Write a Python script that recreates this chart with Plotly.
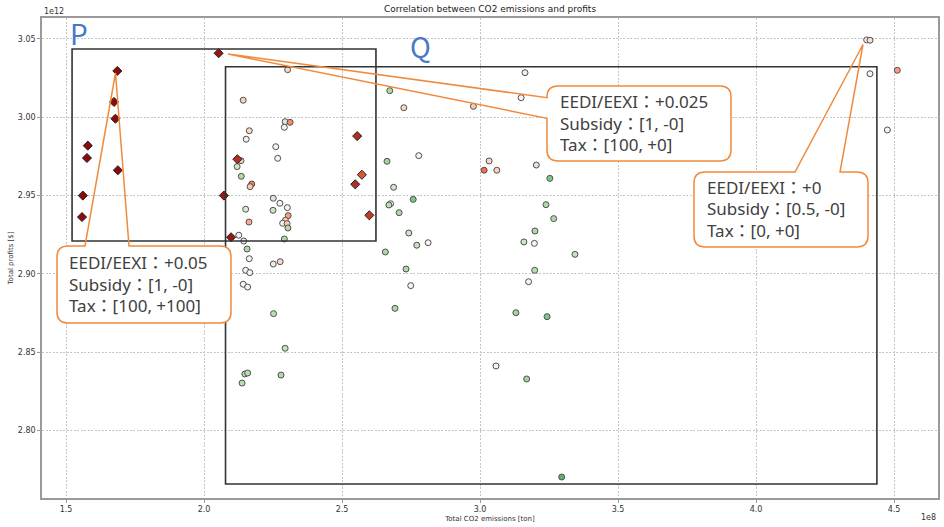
import plotly.graph_objects as go

# ---------------- data (x in 1e8 ton, y in 1e12 $) ----------------
circle_x = [2.303, 2.142, 2.294, 2.312, 2.291, 2.164, 2.153, 2.260, 2.267, 2.134,
            2.120, 2.135, 2.173, 2.167, 2.251, 2.275, 2.302, 2.151, 2.250, 2.305,
            2.163, 2.295, 2.285, 2.301, 2.304, 2.126, 2.144, 2.291, 2.673, 2.663,
            2.687, 2.676, 2.670, 2.707, 2.156, 2.164, 2.251, 2.276, 2.151, 2.166,
            2.142, 2.158, 2.252, 2.294, 2.148, 2.158, 2.279, 2.138, 2.657, 2.692,
            3.163, 2.724, 3.149, 2.976, 2.778, 3.033, 3.015, 3.061, 3.204, 3.253,
            2.758, 3.239, 3.267, 2.742, 3.199, 2.812, 2.771, 3.159, 3.197, 3.344,
            2.732, 3.198, 2.749, 3.176, 3.130, 3.243, 3.058, 3.169, 3.296, 4.401,
            4.413, 4.413, 4.512, 4.476]
circle_y = [3.0304, 3.0109, 2.9972, 2.9968, 2.9936, 2.9914, 2.9860, 2.9812, 2.9738, 2.9723,
            2.9685, 2.9623, 2.9574, 2.9557, 2.9483, 2.9451, 2.9423, 2.9413, 2.9406, 2.9372,
            2.9331, 2.9342, 2.9323, 2.9321, 2.9293, 2.9247, 2.9210, 2.9223, 3.0170, 2.9719,
            2.9553, 2.9448, 2.9440, 2.9391, 2.9159, 2.9097, 2.9063, 2.9078, 2.9023, 2.9008,
            2.8934, 2.8916, 2.8746, 2.8525, 2.8361, 2.8367, 2.8354, 2.8303, 2.9140, 2.8780,
            3.0285, 3.0061, 3.0125, 3.0070, 2.9755, 2.9721, 2.9662, 2.9662, 2.9695, 2.9610,
            2.9476, 2.9442, 2.9353, 2.9261, 2.9274, 2.9199, 2.9183, 2.9204, 2.9195, 2.9125,
            2.9031, 2.9023, 2.8925, 2.8950, 2.8752, 2.8727, 2.8412, 2.8329, 2.7703, 3.0494,
            3.0492, 3.0278, 3.0300, 2.9919]
circle_c = [0.2, 0.25, -0.15, 0.5, 0.0, 0.2, 0.05, 0.0, 0.0, 0.25,
            -0.2, -0.35, 0.55, 0.3, -0.15, 0.0, 0.0, -0.15, -0.2, 0.45,
            0.4, 0.25, 0.0, 0.3, -0.35, 0.0, 0.1, -0.35, -0.35, -0.4,
            -0.2, 0.0, -0.3, -0.35, -0.35, 0.0, 0.1, 0.2, 0.0, 0.0,
            0.0, 0.0, -0.3, -0.25, -0.3, -0.3, -0.35, -0.3, -0.35, -0.35,
            0.05, 0.2, 0.0, 0.3, 0.0, 0.2, 0.6, 0.25, -0.15, -0.55,
            -0.55, -0.35, -0.35, -0.2, -0.35, 0.0, -0.25, -0.2, 0.0, -0.25,
            -0.35, -0.3, 0.0, 0.0, -0.4, -0.55, 0.0, -0.4, -0.7, 0.05,
            0.15, 0.0, 0.45, 0.0]

diamond_x = [1.686, 1.674, 1.679, 1.579, 1.576, 1.688, 1.561, 1.558,
             2.053, 2.072, 2.121, 2.555, 2.572, 2.548, 2.599, 2.098]
diamond_y = [3.0296, 3.0098, 2.9991, 2.9819, 2.9740, 2.9662, 2.9500, 2.9363,
             3.0409, 2.9500, 2.9732, 2.9880, 2.9633, 2.9572, 2.9374, 2.9234]
diamond_c = [1.0, 1.0, 1.0, 1.0, 1.0, 1.0, 1.0, 1.0,
             0.95, 0.95, 0.85, 0.85, 0.7, 0.85, 0.8, 0.95]

x_ticks = [1.5, 2.0, 2.5, 3.0, 3.5, 4.0, 4.5]
y_ticks = [2.80, 2.85, 2.90, 2.95, 3.00, 3.05]

# regions P and Q (data units)
region_names = ["P", "Q"]
region_x = [(1.522, 2.623), (2.078, 4.438)]
region_y = [(2.921, 3.0436), (2.7658, 3.0323)]

callout_texts = [
    ["EEDI/EEXI：+0.05", "Subsidy：[1, -0]", "Tax：[100, +100]"],
    ["EEDI/EEXI：+0.025", "Subsidy：[1, -0]", "Tax：[100, +0]"],
    ["EEDI/EEXI：+0", "Subsidy：[0.5, -0]", "Tax：[0, +0]"],
]

# ---------------- layout geometry ----------------
W, H = 944, 527
L, R, T, B = 42, 6, 18, 29
PW, PH = W - L - R, H - T - B
XR = [1.41304, 4.6594]
YR = [2.7569, 3.0634]

def px2paper(px, py):
    return (px - L) / PW, (H - B - py) / PH

def P(px, py):
    x, y = px2paper(px, py)
    return f"{x:.5f},{y:.5f}"

def rounded_rect(x0, y0, x1, y1, r):
    return (f"M {P(x0+r,y0)} L {P(x1-r,y0)} Q {P(x1,y0)} {P(x1,y0+r)} "
            f"L {P(x1,y1-r)} Q {P(x1,y1)} {P(x1-r,y1)} L {P(x0+r,y1)} "
            f"Q {P(x0,y1)} {P(x0,y1-r)} L {P(x0,y0+r)} Q {P(x0,y0)} {P(x0+r,y0)} Z")

def callout_outline(x0, y0, x1, y1, r, side, b1, b2, tip):
    tx, ty = tip
    if side == "top":
        return (f"M {P(b2,y0)} L {P(x1-r,y0)} Q {P(x1,y0)} {P(x1,y0+r)} "
                f"L {P(x1,y1-r)} Q {P(x1,y1)} {P(x1-r,y1)} L {P(x0+r,y1)} "
                f"Q {P(x0,y1)} {P(x0,y1-r)} L {P(x0,y0+r)} Q {P(x0,y0)} {P(x0+r,y0)} "
                f"L {P(b1,y0)} L {P(tx,ty)} Z")
    else:  # left
        return (f"M {P(x0,b2)} L {P(x0,y1-r)} Q {P(x0,y1)} {P(x0+r,y1)} "
                f"L {P(x1-r,y1)} Q {P(x1,y1)} {P(x1,y1-r)} L {P(x1,y0+r)} "
                f"Q {P(x1,y0)} {P(x1-r,y0)} L {P(x0+r,y0)} Q {P(x0,y0)} {P(x0,y0+r)} "
                f"L {P(x0,b1)} L {P(tx,ty)} Z")

# callout boxes in pixels: (x0, y0, x1, y1, side, base1, base2, tip, text_x, line_ys)
callouts = [
    (57, 246, 231, 323, "top", 85, 129, (115.5, 73), 67, [262, 284, 305.5]),
    (547, 86, 731, 161, "left", 97.7, 118.3, (228, 54), 558, [101.5, 123.3, 145]),
    (694, 172, 868, 247, "top", 795, 840, (863, 44.5), 705, [187, 208.5, 230]),
]

colorscale = [[0.0, '#1a7f3c'], [0.2, '#74c476'], [0.35, '#b9deb2'], [0.5, '#f4f4f4'],
              [0.65, '#fcc9b0'], [0.8, '#f06e4a'], [1.0, '#8b0a0a']]

fig = go.Figure()
fig.add_trace(go.Scatter(
    x=circle_x, y=circle_y, mode='markers',
    marker=dict(symbol='circle', size=6, color=circle_c, colorscale=colorscale,
                cmin=-1, cmax=1, line=dict(color='#505050', width=1)),
    showlegend=False, hoverinfo='x+y'))
fig.add_trace(go.Scatter(
    x=diamond_x, y=diamond_y, mode='markers',
    marker=dict(symbol='diamond', size=7, color=diamond_c, colorscale=colorscale,
                cmin=-1, cmax=1, line=dict(color='#222222', width=1)),
    showlegend=False, hoverinfo='x+y'))

shapes = []
for (x0, x1), (y0, y1) in zip(region_x, region_y):
    shapes.append(dict(type='rect', xref='x', yref='y', x0=x0, x1=x1, y0=y0, y1=y1,
                       line=dict(color='#333333', width=1.6), fillcolor='rgba(0,0,0,0)',
                       layer='above'))

annotations = []
ORANGE = '#F08A3E'
for (x0, y0, x1, y1, side, b1, b2, tip, tx, lys), lines in zip(callouts, callout_texts):
    shapes.append(dict(type='path', xref='paper', yref='paper',
                       path=rounded_rect(x0, y0, x1, y1, 11),
                       fillcolor='white', line=dict(width=0), layer='above'))
    shapes.append(dict(type='path', xref='paper', yref='paper',
                       path=callout_outline(x0, y0, x1, y1, 11, side, b1, b2, tip),
                       fillcolor='rgba(0,0,0,0)', line=dict(color=ORANGE, width=1.5),
                       layer='above'))
    for txt, ly in zip(lines, lys):
        ax, ay = px2paper(tx, ly)
        annotations.append(dict(xref='paper', yref='paper', x=ax, y=ay, text=txt,
                                showarrow=False, xanchor='left', yanchor='middle',
                                font=dict(family='Noto Sans, Noto Sans CJK JP', size=17,
                                          color='#404040')))

# region labels P / Q
for name, (px, py) in zip(region_names, [(79, 33), (420, 46)]):
    ax, ay = px2paper(px, py)
    annotations.append(dict(xref='paper', yref='paper', x=ax, y=ay, text=name,
                            showarrow=False, xanchor='center', yanchor='middle',
                            font=dict(family='Noto Sans CJK JP', size=28, color='#4A78C8')))

# title and exponent labels
tx_, ty_ = px2paper(490, 9)
annotations.append(dict(xref='paper', yref='paper', x=0.5, y=ty_, xanchor='center', yanchor='middle',
                        text='Correlation between CO2 emissions and profits', showarrow=False,
                        font=dict(family='DejaVu Sans', size=9, color='#222')))
annotations.append(dict(xref='paper', yref='paper', x=0, y=1, xanchor='left', yanchor='bottom',
                        text='1e12', showarrow=False,
                        font=dict(family='DejaVu Sans', size=8, color='#333')))
annotations.append(dict(xref='paper', yref='paper', x=1, y=0, xanchor='right', yanchor='top',
                        text='1e8', showarrow=False, yshift=-13,
                        font=dict(family='DejaVu Sans', size=8, color='#333')))

axis_common = dict(showline=True, linecolor='#9a9a9a', linewidth=1.5, mirror=True,
                   showgrid=True, gridcolor='#c4c4c4', griddash='2px,1.5px', gridwidth=1,
                   ticks='outside', ticklen=3, tickcolor='#9a9a9a', zeroline=False,
                   automargin=False,
                   tickfont=dict(family='DejaVu Sans', size=8, color='#333'))

fig.update_layout(
    width=W, height=H, margin=dict(l=L, r=R, t=T, b=B),
    plot_bgcolor='white', paper_bgcolor='white',
    xaxis=dict(range=XR, tickvals=x_ticks, ticktext=[f"{v:.1f}" for v in x_ticks],
               title=dict(text='Total CO2 emissions [ton]', standoff=3,
                          font=dict(family='DejaVu Sans', size=7, color='#333')),
               **axis_common),
    yaxis=dict(range=YR, tickvals=y_ticks, ticktext=[f"{v:.2f}" for v in y_ticks],
               title=dict(text='Total profits [$]', standoff=3,
                          font=dict(family='DejaVu Sans', size=7, color='#333')),
               **axis_common),
    shapes=shapes, annotations=annotations,
)

fig.write_html("out.html", config={'displayModeBar': False},
               post_script="document.body.style.margin='0';document.body.style.overflow='hidden';")
